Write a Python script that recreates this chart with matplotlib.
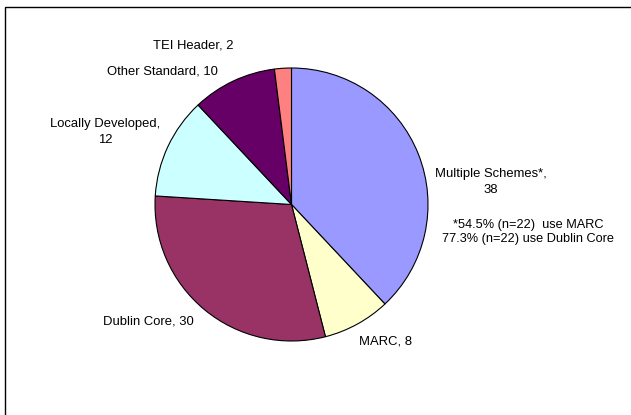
import matplotlib
matplotlib.use("Agg")
import matplotlib.pyplot as plt
from matplotlib.patches import Rectangle

labels = ["Multiple Schemes*", "MARC", "Dublin Core", "Locally Developed", "Other Standard", "TEI Header"]
values = [38, 8, 30, 12, 10, 2]
colors = ["#9999FF", "#FFFFCC", "#993366", "#CCFFFF", "#660066", "#FF8080"]
note = "*54.5% (n=22)  use MARC\n77.3% (n=22) use Dublin Core"

plt.rcParams['font.family'] = ['Liberation Sans', 'DejaVu Sans']

W, H = 631, 415
fig = plt.figure(figsize=(W / 100, H / 100), dpi=100)
fig.patch.set_facecolor("white")

def fx(px):
    return px / W

def fy(py):
    return 1 - py / H

# outer frame
fig.add_artist(Rectangle((fx(5), fy(H + 20)), fx(W + 20), (H + 20 - 7) / H,
                         transform=fig.transFigure, fill=False, edgecolor="black", linewidth=1.0))

cx, cy, r = 291.5, 204.5, 136.5
ax = fig.add_axes([fx(cx - r), fy(cy + r), 2 * r / W, 2 * r / H])
ax.pie(values, colors=colors, startangle=90, counterclock=False,
       wedgeprops=dict(edgecolor="black", linewidth=0.8), radius=1.0)
ax.set_xlim(-1.0, 1.0)
ax.set_ylim(-1.0, 1.0)
ax.set_aspect("equal")
ax.axis("off")

fs = 9.4
label_pos = {
    "Multiple Schemes*": (491, 182, "Multiple Schemes*,\n38"),
    "MARC": (386, 341, "MARC, 8"),
    "Dublin Core": (148, 321, "Dublin Core, 30"),
    "Locally Developed": (105, 132, "Locally Developed,\n12"),
    "Other Standard": (162, 71, "Other Standard, 10"),
    "TEI Header": (193, 45, "TEI Header, 2"),
}
for lab, v in zip(labels, values):
    x, y, txt = label_pos[lab]
    fig.text(fx(x), fy(y), txt, ha="center", va="center", fontsize=fs, linespacing=1.35)

fig.text(fx(528), fy(232), note, ha="center", va="center", fontsize=9.2, linespacing=1.3)

fig.savefig("out.png", dpi=100)
